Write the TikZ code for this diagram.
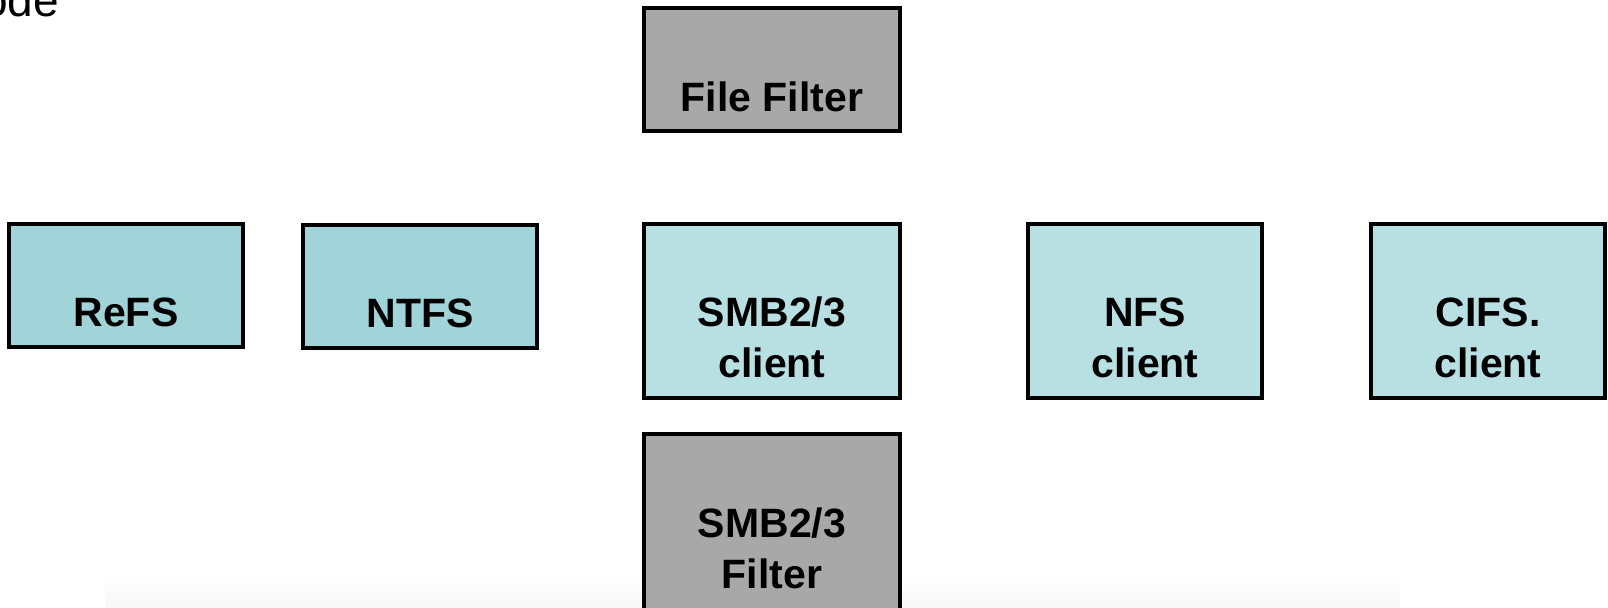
\documentclass[tikz,border=0pt]{standalone}
\usepackage{fontspec}
\setmainfont{Liberation Sans}
\usetikzlibrary{shapes,arrows}
\definecolor{fsfill}{HTML}{A0D4D8}
\definecolor{clientfill}{HTML}{B8E0E3}
\definecolor{filterfill}{HTML}{A8A8A8}
\tikzstyle{block} = [rectangle, draw, line width=1.6pt, align=center, inner sep=0pt, font=\fontsize{20.5pt}{25.5pt}\selectfont\bfseries, text depth=10.5pt]
\tikzstyle{fsblock} = [block, fill=fsfill, minimum width=117pt, text height=51pt]
\tikzstyle{clientblock} = [block, fill=clientfill, minimum width=117pt, text height=76.5pt]
\tikzstyle{filterblock} = [block, fill=filterfill, minimum width=128pt]

\begin{document}
\begin{tikzpicture}[x=0.5pt, y=-0.5pt]

\useasboundingbox (0, 0) rectangle (1608, 607);

% faint band along the bottom
\fill [top color=white, bottom color=black!3] (105, 574) rectangle (1400, 607);

\node [anchor=base east, font=\fontsize{23pt}{27pt}\selectfont] at (66, 16) (mode) {ode};

% filters
\node [filterblock, text depth=10pt, text height=51.5pt] at (772, 69.5) (filefilter) {File Filter};
\node [filterblock, text depth=11pt, text height=77pt] at (772, 522) (smbfilter) {SMB2/3\\Filter};

% file systems
\node [fsblock] at (126, 285.5) (refs) {ReFS};
\node [fsblock] at (420, 286.5) (ntfs) {NTFS};

% clients
\node [clientblock, minimum width=128pt] at (772, 311) (smbclient) {SMB2/3\\client};
\node [clientblock] at (1145, 311) (nfsclient) {NFS\\client};
\node [clientblock] at (1488, 311) (cifsclient) {CIFS.\\client};

\end{tikzpicture}
\end{document}
